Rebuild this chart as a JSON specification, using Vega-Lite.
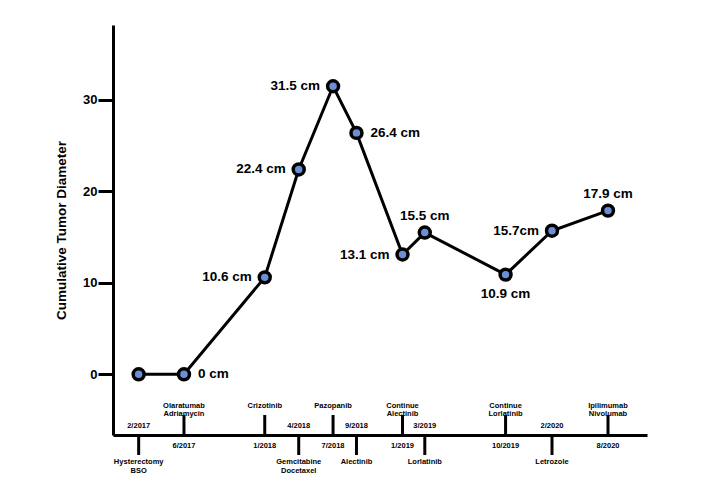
{
  "$schema": "https://vega.github.io/schema/vega-lite/v6.json",
  "width": 534,
  "height": 410,
  "autosize": "none",
  "padding": {"left": 113, "top": 25, "right": 67, "bottom": 63},
  "background": "white",
  "config": {
    "view": {"stroke": null},
    "font": "Liberation Sans",
    "text": {"font": "Liberation Sans", "fontWeight": "bold", "color": "black"}
  },
  "data": {
    "format": {"parse": {"date": "date"}},
    "values": [
      {"date": "2017-02-01", "when": "2/2017", "treatment": "Hysterectomy\nBSO", "diameter": 0, "label": ""},
      {"date": "2017-06-01", "when": "6/2017", "treatment": "Olaratumab\nAdriamycin", "diameter": 0, "label": "0 cm"},
      {"date": "2018-01-01", "when": "1/2018", "treatment": "Crizotinib", "diameter": 10.6, "label": "10.6 cm"},
      {"date": "2018-04-01", "when": "4/2018", "treatment": "Gemcitabine\nDocetaxel", "diameter": 22.4, "label": "22.4 cm"},
      {"date": "2018-07-01", "when": "7/2018", "treatment": "Pazopanib", "diameter": 31.5, "label": "31.5 cm"},
      {"date": "2018-09-01", "when": "9/2018", "treatment": "Alectinib", "diameter": 26.4, "label": "26.4 cm"},
      {"date": "2019-01-01", "when": "1/2019", "treatment": "Continue\nAlectinib", "diameter": 13.1, "label": "13.1 cm"},
      {"date": "2019-03-01", "when": "3/2019", "treatment": "Lorlatinib", "diameter": 15.5, "label": "15.5 cm"},
      {"date": "2019-10-01", "when": "10/2019", "treatment": "Continue\nLorlatinib", "diameter": 10.9, "label": "10.9 cm"},
      {"date": "2020-02-01", "when": "2/2020", "treatment": "Letrozole", "diameter": 15.7, "label": "15.7cm"},
      {"date": "2020-08-01", "when": "8/2020", "treatment": "Ipilimumab\nNivolumab", "diameter": 17.9, "label": "17.9 cm"}
    ]
  },
  "encoding": {
    "x": {
      "field": "date",
      "type": "quantitative",
      "scale": {
        "type": "linear",
        "nice": false,
        "zero": false,
        "domain": [1480032000000, 1580515200000, 1596240000000, 1607126400000],
        "range": [0, 439, 495, 534]
      },
      "axis": {
        "title": null,
        "labels": false,
        "ticks": false,
        "grid": false,
        "domainWidth": 3,
        "domainColor": "black"
      }
    }
  },
  "layer": [
    {
      "mark": {"type": "line", "color": "black", "strokeWidth": 3},
      "encoding": {
        "y": {
          "field": "diameter",
          "type": "quantitative",
          "scale": {"domain": [-6.64, 38.2], "nice": false, "zero": false},
          "axis": {
            "values": [0, 10, 20, 30],
            "grid": false,
            "domainWidth": 3,
            "domainColor": "black",
            "tickWidth": 3,
            "tickSize": 15,
            "tickColor": "black",
            "labelFont": "Liberation Sans",
            "labelFontSize": 13,
            "labelFontWeight": "bold",
            "labelColor": "black",
            "labelPadding": 1,
            "title": "Cumulative Tumor Diameter",
            "titleFont": "Liberation Sans",
            "titleFontSize": 13.5,
            "titleFontWeight": "bold",
            "titleColor": "black",
            "titlePadding": 14
          }
        }
      }
    },
    {
      "mark": {"type": "point", "shape": "circle", "filled": true, "fill": "#6a8fd4", "stroke": "black", "strokeWidth": 3.5, "size": 120, "opacity": 1},
      "encoding": {"y": {"field": "diameter", "type": "quantitative"}}
    },
    {
      "transform": [{"filter": {"field": "label", "oneOf": ["0 cm", "26.4 cm"]}}],
      "mark": {"type": "text", "align": "left", "baseline": "middle", "dx": 14, "fontSize": 13.5},
      "encoding": {"y": {"field": "diameter", "type": "quantitative"}, "text": {"field": "label"}}
    },
    {
      "transform": [{"filter": {"field": "label", "oneOf": ["10.6 cm", "22.4 cm", "31.5 cm", "13.1 cm", "15.7cm"]}}],
      "mark": {"type": "text", "align": "right", "baseline": "middle", "dx": -13, "fontSize": 13.5},
      "encoding": {"y": {"field": "diameter", "type": "quantitative"}, "text": {"field": "label"}}
    },
    {
      "transform": [{"filter": {"field": "label", "oneOf": ["15.5 cm", "17.9 cm"]}}],
      "mark": {"type": "text", "align": "center", "baseline": "middle", "dy": -17, "fontSize": 13.5},
      "encoding": {"y": {"field": "diameter", "type": "quantitative"}, "text": {"field": "label"}}
    },
    {
      "transform": [{"filter": {"field": "label", "oneOf": ["10.9 cm"]}}],
      "mark": {"type": "text", "align": "center", "baseline": "middle", "dy": 19, "fontSize": 13.5},
      "encoding": {"y": {"field": "diameter", "type": "quantitative"}, "text": {"field": "label"}}
    },
    {
      "transform": [{"filter": {"field": "when", "oneOf": ["6/2017", "1/2018", "7/2018", "1/2019", "10/2019", "8/2020"]}}],
      "mark": {"type": "rule", "color": "black", "strokeWidth": 3},
      "encoding": {"y": {"datum": -6.64}, "y2": {"datum": -4.45}}
    },
    {
      "transform": [{"filter": {"field": "when", "oneOf": ["2/2017", "4/2018", "9/2018", "3/2019", "2/2020"]}}],
      "mark": {"type": "rule", "color": "black", "strokeWidth": 3},
      "encoding": {"y": {"datum": -6.64}, "y2": {"datum": -8.83}}
    },
    {
      "transform": [{"filter": {"field": "when", "oneOf": ["6/2017", "1/2018", "7/2018", "1/2019", "10/2019", "8/2020"]}}],
      "mark": {"type": "text", "align": "center", "baseline": "bottom", "fontSize": 7.5, "lineBreak": "\n", "lineHeight": 8.5},
      "encoding": {"y": {"datum": -3.9}, "text": {"field": "treatment"}}
    },
    {
      "transform": [{"filter": {"field": "when", "oneOf": ["6/2017", "1/2018", "7/2018", "1/2019", "10/2019", "8/2020"]}}],
      "mark": {"type": "text", "align": "center", "baseline": "middle", "fontSize": 7.5},
      "encoding": {"y": {"datum": -7.84}, "text": {"field": "when"}}
    },
    {
      "transform": [{"filter": {"field": "when", "oneOf": ["2/2017", "4/2018", "9/2018", "3/2019", "2/2020"]}}],
      "mark": {"type": "text", "align": "center", "baseline": "top", "fontSize": 7.5, "lineBreak": "\n", "lineHeight": 8.5},
      "encoding": {"y": {"datum": -9.18}, "text": {"field": "treatment"}}
    },
    {
      "transform": [{"filter": {"field": "when", "oneOf": ["2/2017", "4/2018", "9/2018", "3/2019", "2/2020"]}}],
      "mark": {"type": "text", "align": "center", "baseline": "middle", "fontSize": 7.5},
      "encoding": {"y": {"datum": -5.65}, "text": {"field": "when"}}
    }
  ]
}
